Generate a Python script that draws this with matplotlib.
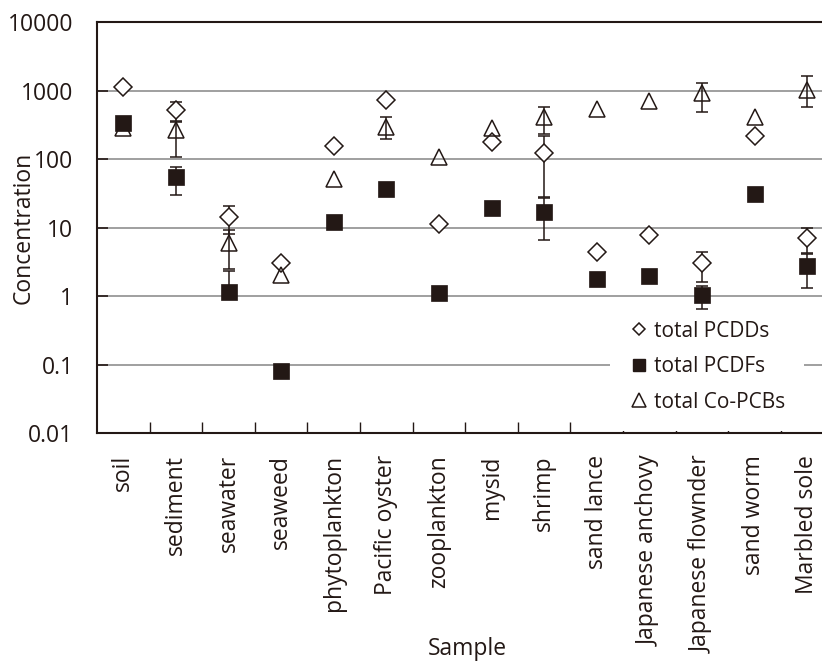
import numpy as np
import matplotlib
matplotlib.use('Agg')
import matplotlib.pyplot as plt
from matplotlib.lines import Line2D
from matplotlib.ticker import NullLocator

plt.rcParams['font.family'] = ['Open Sans', 'DejaVu Sans']

# ----------------------------
# data (concentration per sample, NaN = no error bar)
# ----------------------------
samples = ['soil', 'sediment', 'seawater', 'seaweed', 'phytoplankton',
           'Pacific oyster', 'zooplankton', 'mysid', 'shrimp', 'sand lance',
           'Japanese anchovy', 'Japanese flownder', 'sand worm', 'Marbled sole']

nan = np.nan
pcdd = [1130, 520, 14.4, 3.0, 155, 720, 11.1, 180, 121, 4.4, 7.9, 3.0, 215, 7.0]
pcdd_lo = [nan, 355, 8.0, nan, nan, nan, nan, nan, 28, nan, nan, 1.62, nan, 4.2]
pcdd_hi = [nan, 685, 20.8, nan, nan, nan, nan, nan, 217, nan, nan, 4.35, nan, 9.7]

pcdf = [330, 55, 1.16, 0.08, 12, 36, 1.09, 19, 17, 1.75, 1.96, 1.03, 30.6, 2.74]
pcdf_lo = [nan, 30, 1.16, nan, nan, nan, nan, nan, 6.6, nan, nan, 0.64, nan, 1.32]
pcdf_hi = [nan, 76, 2.3, nan, nan, nan, nan, nan, 27.4, nan, nan, 1.42, nan, 4.06]

copcb = [280, 265, 5.9, 2.03, 50.6, 297, 108, 280, 415, 531, 709, 910, 415, 1016]
copcb_lo = [nan, 108, 2.5, nan, nan, 196, nan, nan, 232, nan, nan, 490, nan, 580]
copcb_hi = [nan, 351, 9.3, nan, nan, 406, nan, nan, 569, nan, nan, 1274, nan, 1629]

yticks = [0.01, 0.1, 1, 10, 100, 1000, 10000]
ytick_labels = ['0.01', '0.1', '1', '10', '100', '1000', '10000']

ink = '#231815'
grid_col = '#858585'
fs = 16.5

fig = plt.figure(figsize=(8.22, 6.61), dpi=100)
# plot area runs a little past the right edge of the figure
ax = fig.add_axes([97 / 822, 228 / 661, 736.4 / 822, 411 / 661])
x = np.arange(len(samples))


def draw_bars(vals, lo, hi, z):
    vals = np.array(vals, float)
    lo = np.array(lo, float)
    hi = np.array(hi, float)
    m = ~np.isnan(lo)
    yerr = [vals[m] - lo[m], hi[m] - vals[m]]
    ax.errorbar(x[m], vals[m], yerr=yerr, fmt='none', ecolor=ink,
                elinewidth=1.1, capsize=4.6, capthick=1.1, zorder=z)


draw_bars(pcdd, pcdd_lo, pcdd_hi, 2)
draw_bars(pcdf, pcdf_lo, pcdf_hi, 2)
ax.plot(x, pcdd, ls='none', marker='D', ms=8.8, mfc='white', mec=ink, mew=1.1, zorder=3)
ax.plot(x, pcdf, ls='none', marker='s', ms=12, mfc=ink, mec=ink, mew=0.5, zorder=4)
draw_bars(copcb, copcb_lo, copcb_hi, 5)
ax.plot(x, copcb, ls='none', marker='^', ms=12.2, mfc='none', mec=ink, mew=1.1, zorder=6)

ax.set_yscale('log')
ax.set_ylim(0.01, 10000)
ax.set_xlim(-0.5, len(samples) - 0.5)
ax.set_yticks(yticks)
ax.set_yticklabels(ytick_labels)
ax.yaxis.set_minor_locator(NullLocator())
ax.tick_params(axis='y', direction='in', length=8, width=1.2, color=ink,
               pad=17, labelsize=fs, labelcolor=ink)

ax.set_xticks(x)
ax.set_xticklabels(samples, rotation=90)
ax.set_xticks(np.arange(0.5, len(samples) - 0.5, 1), minor=True)
ax.tick_params(axis='x', which='major', length=0, pad=16, labelsize=fs, labelcolor=ink)
ax.tick_params(axis='x', which='minor', direction='in', length=8, width=1.0, color=ink)

ax.set_axisbelow(True)
ax.yaxis.grid(True, color=grid_col, lw=1.1)
for s in ax.spines.values():
    s.set_color(ink)
    s.set_linewidth(1.5)

ax.set_ylabel('Concentration', fontsize=fs, color=ink)
ax.yaxis.label.set_va('center')
ax.yaxis.set_label_coords((24 - 97) / 736.4, 0.5)
ax.set_xlabel('Sample', fontsize=fs, color=ink)
ax.xaxis.label.set_va('center')
ax.xaxis.set_label_coords((467 - 97) / 736.4, (433 - 649) / 411)

handles = [
    Line2D([], [], ls='none', marker='D', ms=6.2, mfc='white', mec=ink, mew=1.1),
    Line2D([], [], ls='none', marker='s', ms=8.6, mfc=ink, mec=ink),
    Line2D([], [], ls='none', marker='^', ms=10.5, mfc='none', mec=ink, mew=1.1),
]
leg = ax.legend(handles, ['total PCDDs', 'total PCDFs', 'total Co-PCBs'],
                loc='upper left', bbox_to_anchor=((610 - 97) / 736.4, (433 - 302) / 411),
                fontsize=15, frameon=True, fancybox=False, facecolor='white',
                edgecolor='none', framealpha=1, borderpad=0.9, handlelength=1.0,
                handletextpad=0.2, labelspacing=0.69, borderaxespad=0)
for t in leg.get_texts():
    t.set_color(ink)
leg.set_zorder(1)

fig.savefig('out.png', dpi=100)
